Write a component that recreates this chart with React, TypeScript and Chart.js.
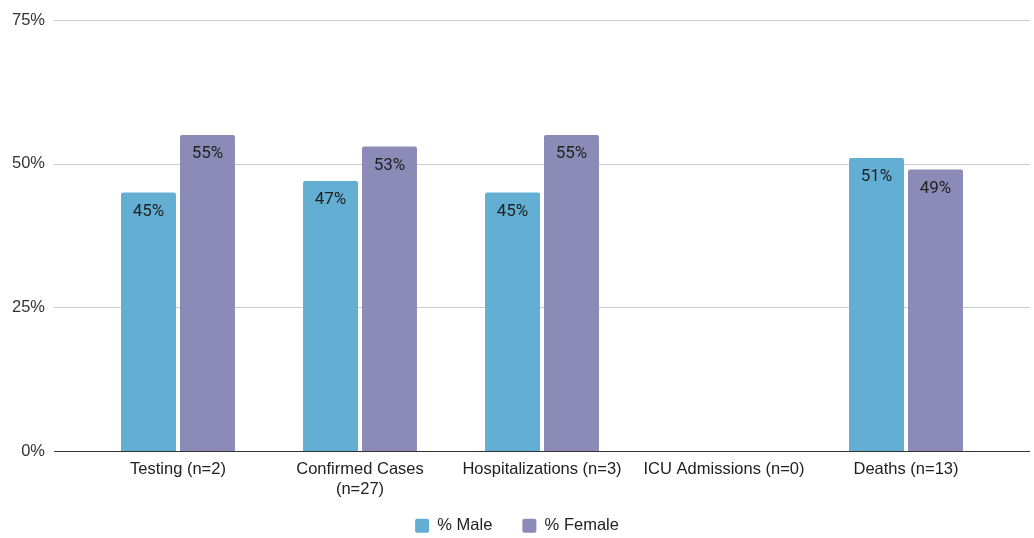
import React, { useEffect, useRef } from "react";
import { Chart, registerables } from "chart.js";

Chart.register(...registerables);

const categories: (string | string[])[] = [
  "Testing (n=2)",
  ["Confirmed Cases", "(n=27)"],
  "Hospitalizations (n=3)",
  "ICU Admissions (n=0)",
  "Deaths (n=13)",
];
const malePct: (number | null)[] = [45, 47, 45, null, 51];
const femalePct: (number | null)[] = [55, 53, 55, null, 49];
const yTicks = [0, 25, 50, 75];

const MALE_COLOR = "#63aed3";
const FEMALE_COLOR = "#8c8bb7";
const AXIS_FONT = "'Liberation Sans', Arial, sans-serif";
const LABEL_FONT = "Roboto, 'Liberation Sans', sans-serif";
const AXIS_SIZE = 16.5;

// Horizontal gridlines that run past the plot area on both sides.
const gridPlugin = {
  id: "wideGrid",
  afterLayout(chart: any) {
    // Let the two-line category label overhang the short x-axis box.
    chart.scales.x.bottom = chart.height;
  },
  beforeDatasetsDraw(chart: any) {
    const y = chart.scales.y;
    const ctx = chart.ctx;
    ctx.save();
    ctx.lineWidth = 1;
    ctx.strokeStyle = "#cccccc";
    for (const v of yTicks) {
      if (v === 0) continue;
      const py = Math.round(y.getPixelForValue(v)) + 0.5;
      ctx.beginPath();
      ctx.moveTo(54, py);
      ctx.lineTo(chart.width - 4, py);
      ctx.stroke();
    }
    ctx.restore();
  },
  afterDatasetsDraw(chart: any) {
    const y = chart.scales.y;
    const ctx = chart.ctx;
    ctx.save();
    ctx.lineWidth = 1;
    ctx.strokeStyle = "#333333";
    const py = Math.round(y.getPixelForValue(0)) + 0.5;
    ctx.beginPath();
    ctx.moveTo(54, py);
    ctx.lineTo(chart.width - 4, py);
    ctx.stroke();
    ctx.restore();
  },
};

// Percent labels drawn just inside the top of each bar.
const barLabelPlugin = {
  id: "barLabels",
  afterDatasetsDraw(chart: any) {
    const ctx = chart.ctx;
    ctx.save();
    ctx.font = `17px ${LABEL_FONT}`;
    ctx.fillStyle = "#222222";
    ctx.textAlign = "center";
    ctx.textBaseline = "middle";
    chart.data.datasets.forEach((ds: any, i: number) => {
      const meta = chart.getDatasetMeta(i);
      meta.data.forEach((bar: any, j: number) => {
        const v = ds.data[j];
        if (v === null || v === undefined) return;
        ctx.fillText(`${v}%`, bar.x, bar.y + 19);
      });
    });
    ctx.restore();
  },
};

export default function App() {
  const canvasRef = useRef<HTMLCanvasElement | null>(null);

  useEffect(() => {
    if (!canvasRef.current) return;
    const chart = new Chart(canvasRef.current, {
      type: "bar",
      data: {
        labels: categories,
        datasets: [
          {
            label: "% Male",
            data: malePct,
            backgroundColor: MALE_COLOR,
            borderRadius: { topLeft: 2, topRight: 2 },
            borderSkipped: "bottom",
          },
          {
            label: "% Female",
            data: femalePct,
            backgroundColor: FEMALE_COLOR,
            borderRadius: { topLeft: 2, topRight: 2 },
            borderSkipped: "bottom",
          },
        ],
      },
      plugins: [gridPlugin, barLabelPlugin],
      options: {
        animation: false,
        responsive: false,
        maintainAspectRatio: false,
        layout: { padding: { top: 20, right: 0, bottom: -6, left: 0 } },
        datasets: {
          bar: { categoryPercentage: 0.648, barPercentage: 0.932 },
        },
        scales: {
          x: {
            grid: { display: false, drawTicks: false },
            border: { display: false },
            ticks: {
              color: "#222222",
              font: { family: AXIS_FONT, size: AXIS_SIZE },
              padding: 9,
              maxRotation: 0,
              autoSkip: false,
            },
            afterFit: (scale: any) => {
              scale.height = 36.5;
            },
          },
          y: {
            min: 0,
            max: 75,
            afterBuildTicks: (scale: any) => {
              scale.ticks = yTicks.map((v) => ({ value: v }));
            },
            grid: { display: false, drawTicks: true, tickLength: 33 },
            border: { display: false },
            ticks: {
              color: "#333333",
              font: { family: AXIS_FONT, size: AXIS_SIZE },
              padding: 9,
              callback: (v: any) => `${v}%`,
            },
            afterFit: (scale: any) => {
              scale.width = 87;
            },
          },
          // Empty right-hand strip so the bars end short of the gridlines.
          yRight: {
            type: "linear",
            position: "right",
            grid: { display: false, drawTicks: false },
            border: { display: false },
            ticks: { display: false },
            afterFit: (scale: any) => {
              scale.width = 37;
            },
          },
        },
        plugins: {
          legend: {
            position: "bottom",
            labels: {
              color: "#222222",
              font: { family: AXIS_FONT, size: AXIS_SIZE },
              boxWidth: 14,
              boxHeight: 14,
              useBorderRadius: true,
              borderRadius: 2,
              padding: 30,
            },
          },
          tooltip: { enabled: false },
        },
      },
    });
    return () => chart.destroy();
  }, []);

  return (
    <div
      style={{
        position: "fixed",
        left: 0,
        top: 0,
        width: 1034,
        height: 538,
        background: "#ffffff",
      }}
    >
      <canvas ref={canvasRef} width={1034} height={538} />
    </div>
  );
}
